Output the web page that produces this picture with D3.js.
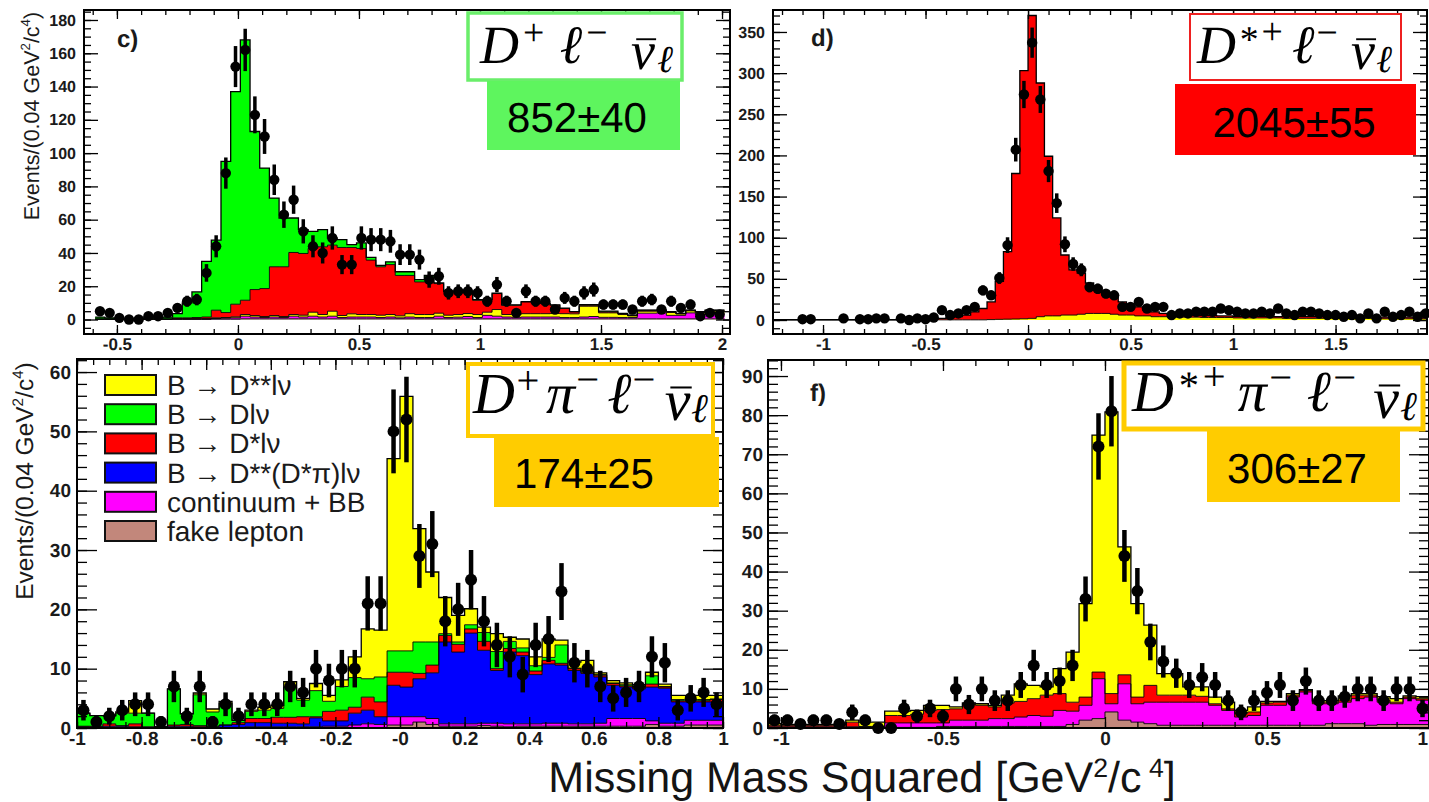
<!DOCTYPE html>
<html lang="en">
<head>
<meta charset="utf-8">
<title>Missing mass squared distributions</title>
<script src="https://cdn.jsdelivr.net/npm/d3@7/dist/d3.min.js"></script>
<style>
  html, body { margin: 0; padding: 0; background: #fff; }
  svg { display: block; text-rendering: geometricPrecision; }
</style>
</head>
<body>
<svg id="chart" width="1429" height="802"></svg>
<script>
// ---------------- binning ----------------
const BIN = 0.04;

// ---------------- c) D+ l nu : 65 bins, first centre -0.57 ----------------
const cFirst = -0.57;
const cData = [5,4,1,0,0,2,2,4,7,11, 12,28,44,88,152,162,123,110,84,63,
  72,53,44,40,49,33,33,49,48,48, 47,39,39,36,24,26,16,17,17,16,
  11,21,11,4,17,11,11,6,13,11, 16,18,9,9,9,6,11,12,6,11, 7,9,2,4,3];
const cFake = [0.1,0.1,0.1,0.1,0.1,0.1,0.1,0.1,0.1,0.1, 0.1,0.1,0.2,0.2,0.2,0.4,0.4,0.4,0.4,0.4,
  0.4,0.4,0.4,0.4,0.4,0.4,0.4,0.4,0.4,0.4, 0.4,0.4,0.4,0.4,0.4,0.4,0.4,0.4,0.4,0.4,
  0.4,0.4,0.4,0.4,0.4,0.4,0.4,0.4,0.4,0.4, 0.4,0.4,0.4,0.4,0.4,0.4,0.4,0.4,0.4,0.4, 0.4,0.4,0.4,0.4,0.4];
const cCont = [0.1,0.1,0.1,0.1,0.1,0.1,0.1,0.1,0.2,0.2, 0.2,0.2,0.4,0.6,0.8,1.6,1.1,0.8,1.1,0.8,
  1.6,1.1,1.6,1.1,1.6,0.8,1.1,1.1,1.1,0.8, 1.1,0.6,1.1,0.8,0.8,1.6,0.8,1.0,1.4,0.8,
  2.1,1.6,1.1,0.9,1.1,1.1,1.1,1.1,0.8,0.8, 1.1,1.4,0.9,0.9,0.8,0.8,3.4,3.4,3.6,2.1, 2.1,3.6,2.6,3.6,3.1];
const cDss = [0.1,0.1,0.1,0.1,0.1,0.1,0.1,0.1,0.2,0.2, 0.2,0.2,0.4,0.4,0.6,1.0,0.9,0.6,0.9,0.6,
  1.0,1.1,2.4,1.5,3.0,1.2,1.9,1.5,1.5,1.4, 1.5,1.2,2.0,1.8,1.8,1.8,1.4,1.6,1.8,1.8,
  1.9,4.0,1.5,1.7,2.0,2.0,2.0,2.1,2.3,2.2, 6.5,6.2,2.7,2.7,1.8,1.0,1.2,1.2,1.0,1.7, 0.8,1.2,1.2,1.2,1.7];
const cDst = [0,0,0,0,0,0,0,0,0.5,0.5, 0.7,1.0,4.6,3.0,7.6,8.6,15.6,16.8,29.3,29.9,
  37.3,37.1,38.3,40.7,39.7,40.9,39.9,39.7,32.7,29.1, 30.0,24.3,23.0,19.6,19.6,17.8,14.0,13.6,13.0,8.6,
  7.2,9.6,5.6,5.6,7.1,7.1,6.1,5.0,3.1,1.2, 0.6,0.6,0.6,0.6,0.6,0.4,0.6,0.6,0.6,0.4, 0.3,0.4,0.4,0.4,0.4];
const cD = [1.2,0.7,0.2,0.2,0.2,0.7,0.7,1.2,2.5,9.0, 15.4,33.5,42.1,90.8,127.8,156.4,95.0,72.4,41.3,29.3,
  20.7,14.3,10.3,10.3,4.3,4.7,1.7,3.3,1.6,0.8, 1.7,2.2,2.2,1.4,3.9,0.4,0.4,0.4,0.4,0.4,
  0.4,0.2,0.2,0.2,0.2,0.2,0.2,0.2,0.2,0.2, 0.4,0.4,0.4,0.4,0.1,0.1,0.1,0.1,0.1,0.1, 0.1,0.1,0.1,0.1,0.1];

// ---------------- d) D*+ l nu : 80 bins, first centre -1.22 ----------------
const dFirst = -1.22;
const dData = [null,null,null,1,1,null,null,null,2,null, 1,1,2,2,null,2,0,2,1,3,
  12,6,8,12,16,36,30,51,91,207, 274,337,268,181,142,92,68,61,40,38,
  32,30,16,16,22,14,16,16,6,8, 8,10,10,10,14,12,10,8,8,10,
  8,14,8,6,10,10,8,6,6,4, 6,2,8,2,10,4,6,10,4,8];
const dDss = [0.2,0.2,0.2,0.2,0.2,0.2,0.2,0.2,0.2,0.2, 0.2,0.2,0.2,0.2,0.2,0.2,0.2,0.2,0.2,0.2,
  0.2,0.2,0.2,0.2,0.2,0.2,0.5,0.8,1.0,1.2, 1.5,2,4,5,5,6,6,7,8,8,
  8,7,6,6,5,5,4,4,3.5,3.5, 3.5,3.5,3,3,3,3,2.5,2.5,2.5,2.5,
  2.5,2.5,2,2,2,2,2,2,2,2, 2,2,2,2,1.5,1.5,1.5,1.5,1.5,1.5];
const dDst = [0.1,0.1,0.1,0.1,0.1,0.1,0.1,0.1,0.1,0.1, 0.1,0.1,0.1,0.1,0.1,0.1,0.1,0.1,0.1,0.8,
  1.8,2.8,3.8,5.8,9.8,13.8,21.5,46.2,82,176.8, 301.5,368,284,194,119,73,55,50,37,32,
  24,21,16,12,11,7,6,4,3.5,3, 2.5,2.5,2.5,2.5,2,2,2,2,2,2,
  1.5,1.5,2,2,2,2,2,2,2,1.5, 1.5,1.5,1.5,1.5,2,2,2,2,2,2];

// ---------------- e) D+ pi- l nu : 50 bins, first centre -0.98 ----------------
const eFirst = -0.98;
const eData = [3,1,2,3,4,4,1,7,2,7, 1,4,2,4,4,4,7,6,10,8,
  10,10,21,21,50,52,29,31,18,20, 25,18,14,12,9,14,15,23,11,10, 7,5,6,7,12,11,3,5,6,4];
const eFake = [0.05,0.05,0.05,0.05,0.05,0.05,0.05,0.05,0.05,0.05, 0.05,0.05,0.05,0.05,0.05,0.05,0.05,0.05,0.05,0.05,
  0.05,0.05,0.05,0.05,0.5,0.5,1.0,0.6,0.3,0.3, 0.3,0.4,0.3,0.2,0.3,0.3,0.3,0.3,0.3,0.3,
  0.3,0.3,0.3,0.3,0.6,0.3,0.3,0.5,0.5,0.5];
const eCont = [0.05,0.05,0.05,0.05,0.05,0.05,0,0.05,0.05,0.05, 0.05,0.05,0.05,0.15,0.15,0.15,0.15,0.15,0.15,0.25,
  0.25,0.45,0.65,0.55,1.4,1.4,0.9,1.0,0.4,0.4, 0.4,0.4,0.5,0.5,0.4,0.4,0.5,0.5,0.4,0.4,
  0.5,1.3,1.3,1.3,0.6,0.5,0.5,0.8,0.8,0.8];
const eDssPi = [0.1,0.1,0.2,0.2,0.1,0,0.05,0.2,0.2,0.1, 0.1,0.4,0.5,0.7,0.7,0.6,0.6,0.5,1.5,0.9,
  0.9,2.0,2.3,1.3,5.3,5.0,6.4,7.7,13.8,12.1, 15.3,12.3,8.9,12.1,11.5,8.3,10.0,9.8,9.0,8.5,
  7.8,5.6,5.3,5.0,5.7,5.9,3.6,3.1,3.1,3.1];
const eDst = [0.1,0.1,0.4,0.1,0.5,0.1,0.1,0.2,0.3,0.2, 0.1,0,0.3,0.7,0.7,1.0,1.0,1.2,0.2,1.6,
  1.8,1.0,2.2,2.5,2.2,2.5,0.9,1.3,1.1,1.3, 0.7,1.5,0.3,0.6,0.6,0.6,0.6,0.3,0.3,0.2,
  0.3,0.3,0.2,0.3,0.5,0.2,0.2,0.2,0.2,0.4];
const eD = [2.2,1.8,1.3,2.1,1.8,2.3,0,6.1,1.8,5.2, 2.4,3.7,0.4,1.2,1.4,1.5,5.1,2.8,4.4,1.7,
  4.0,5.0,3.1,4.2,3.6,3.6,5.3,3.9,0.3,0.4, 0.7,1.5,2.9,1.2,0.7,0.9,0.5,3.1,0.1,0.2,
  0.1,0.1,0.2,0.1,1.4,0.1,0.2,0.2,0.2,0.1];
const eDss = [0,0,0.1,0.2,2.1,0,0,0,0,0.3, 0.5,0.3,0,0.2,0.5,0.5,0.9,0.3,1.2,1.0,
  1.1,3.5,8.4,7.9,32.4,42.9,19.1,11.8,6.1,4.5, 2.7,0.9,3.0,0.7,1.5,1.5,3.1,0.8,1.0,1.8,
  0.3,0.4,0.3,0.3,0.6,0.4,0.7,0.7,0.7,0.6];

// ---------------- f) D*+ pi- l nu : 51 bins, first centre -1.02 ----------------
const fFirst = -1.02;
const fData = [2,2,1,2,2,1,4,2,0,0, 5,3,5,3,10,6,10,7,7,11,
  16,11,12,16,33,72,81,44,35,22, 17,14,11,13,11,7,4,7,9,11, 7,12,7,7,8,10,10,7,10,10, 5];
const fFake = [0.15,0.15,0.15,0.15,0.15,0.15,0.15,0.15,0.15,0.15, 0.15,0.15,0.15,0.4,0.4,0.4,0.4,0.4,0.4,0.4,
  0.4,0.4,0.4,0.9,2.0,2.4,4.1,2.0,1.5,1.1, 0.7,0.7,0.7,0.7,0.7,0.7,0.7,0.7,0.7,0.7,
  0.7,0.7,0.7,1.1,1.1,1.1,0.7,0.9,0.9,0.9, 0.9];
const fCont = [0.15,0.15,0.15,0.15,0.15,0.15,0.15,0.15,0.15,1.15, 1.15,1.15,1.15,0.9,1.6,1.6,1.6,2.0,2.0,2.4,
  2.8,2.6,4.1,3.4,3.8,10.2,2.1,9.3,4.7,5.5, 5.9,5.9,5.9,5.9,5.1,3.8,2.1,2.5,5.1,5.1,
  7.2,8.5,5.5,5.1,5.5,6.4,7.2,5.7,5.3,6.6, 6.2];
const fDst = [0.4,0.4,0.4,0.4,0.4,0.4,1.2,0.1,0.1,1.9, 1.9,2.2,3.2,3.4,2.9,4.2,3.8,3.0,4.0,4.0,
  4.3,5.4,4.3,2.3,2.1,1.7,2.6,2.3,1.7,4.3, 1.8,1.8,1.8,1.5,0.4,0.4,0.9,0.9,0.6,0.8,
  0.5,0.4,0.4,0.4,0.5,0.9,0.5,0.5,0.4,0.4, 0.4];
const fDss = [0.4,0.2,0.2,0.2,0.2,0.2,0.5,1.1,1.1,1.1, 1.1,1.0,1.3,1.1,0.5,0.2,0.4,0.4,2.0,4.5,
  3.4,2.1,6.4,12.8,23.9,60.6,72.0,32.7,23.9,15.4, 5.5,5.5,2.1,2.4,1.7,1.7,0.8,1.3,0.4,0.2,
  0.4,0.2,0.4,0.4,1.1,0.4,0.4,0.9,0.9,0.3, 0.5];

// ---------------- tick values and labels ----------------
const cXTicks = [-0.5, 0, 0.5, 1, 1.5, 2];
const cXLabels = ['-0.5', '0', '0.5', '1', '1.5', '2'];
const cYTicks = [0, 20, 40, 60, 80, 100, 120, 140, 160, 180];
const dXTicks = [-1, -0.5, 0, 0.5, 1, 1.5];
const dXLabels = ['-1', '-0.5', '0', '0.5', '1', '1.5'];
const dYTicks = [0, 50, 100, 150, 200, 250, 300, 350];
const eXTicks = [-1, -0.8, -0.6, -0.4, -0.2, 0, 0.2, 0.4, 0.6, 0.8, 1];
const eXLabels = ['-1', '-0.8', '-0.6', '-0.4', '-0.2', '-0', '0.2', '0.4', '0.6', '0.8', '1'];
const eYTicks = [0, 10, 20, 30, 40, 50, 60];
const fXTicks = [-1, -0.5, 0, 0.5, 1];
const fXLabels = ['-1', '-0.5', '0', '0.5', '1'];
const fYTicks = [0, 10, 20, 30, 40, 50, 60, 70, 80, 90];

// ---------------- legend and yields ----------------
const legendKeys = ['dss', 'd', 'dst', 'dssPi', 'cont', 'fake'];
const legendLabels = ['B \u2192 D**l\u03bd', 'B \u2192 Dl\u03bd', 'B \u2192 D*l\u03bd',
  'B \u2192 D**(D*\u03c0)l\u03bd', 'continuum + BB', 'fake lepton'];
const yieldLabels = ['852\u00b140', '2045\u00b155', '174\u00b125', '306\u00b127'];

// ---------------- drawing ----------------
const W = 1429;
const svg = d3.select('#chart');
svg.append('rect').attr('width', W).attr('height', 802).attr('fill', '#fff');

const SANS = '"Liberation Sans", Arial, Helvetica, sans-serif';
const SERIF = '"Liberation Serif", "DejaVu Serif", serif';
const INK = '#1a1a1a';
const COLOR = { fake: '#c2877b', cont: '#ff00ff', dssPi: '#0000ff', dst: '#ff0000', d: '#00ff00', dss: '#ffff00' };

function gridValues(lo, hi, step) {
  const k0 = Math.ceil(lo / step - 1e-6), k1 = Math.floor(hi / step + 1e-6);
  return d3.range(k0, k1 + 1).map(k => +(k * step).toFixed(6));
}

function drawPanel(p) {
  const x = d3.scaleLinear().domain(p.xDomain).range([p.left, p.right]);
  const y = d3.scaleLinear().domain(p.yDomain).range([p.bottom, p.top]);
  const g = svg.append('g').attr('class', 'panel-' + p.name);

  const clipId = 'clip-' + p.name;
  g.append('clipPath').attr('id', clipId).append('rect')
    .attr('x', p.left).attr('y', p.top)
    .attr('width', p.right - p.left).attr('height', p.bottom - p.top);
  const plot = g.append('g').attr('clip-path', `url(#${clipId})`);

  // stacked Monte Carlo components
  const n = p.layers[0].values.length;
  const rows = d3.range(n).map(i => {
    const r = { c: +(p.first + i * BIN).toFixed(3) };
    p.layers.forEach(l => { r[l.key] = l.values[i]; });
    return r;
  });
  const series = d3.stack().keys(p.layers.map(l => l.key))(rows);
  const steps = s => s.flatMap(d => [
    { x: d.data.c - BIN / 2, lo: d[0], hi: d[1] },
    { x: d.data.c + BIN / 2, lo: d[0], hi: d[1] }
  ]);
  const area = d3.area().x(d => x(d.x)).y0(d => y(d.lo)).y1(d => y(d.hi));
  const line = d3.line().x(d => x(d.x)).y(d => y(d.hi));
  series.forEach(s => plot.append('path').attr('d', area(steps(s))).attr('fill', COLOR[s.key]));
  series.forEach((s, i) => plot.append('path').attr('d', line(steps(s)))
    .attr('fill', 'none').attr('stroke', '#000')
    .attr('stroke-width', i === series.length - 1 ? 1.3 : 0.9));

  // data points with Poisson error bars
  const pts = p.data.map((v, i) => ({ c: +(p.first + i * BIN).toFixed(3), v }))
    .filter(d => d.v !== null);
  g.append('g').selectAll('line').data(pts.filter(d => d.v > 0)).join('line')
    .attr('x1', d => x(d.c)).attr('x2', d => x(d.c))
    .attr('y1', d => y(Math.max(d.v - Math.sqrt(d.v), p.yDomain[0])))
    .attr('y2', d => y(Math.min(d.v + Math.sqrt(d.v), p.yDomain[1])))
    .attr('stroke', '#000').attr('stroke-width', p.barW);
  g.append('g').selectAll('circle').data(pts).join('circle')
    .attr('cx', d => x(d.c)).attr('cy', d => y(d.v)).attr('r', p.r).attr('fill', '#000');

  // axes: ticks on all four sides, pointing inwards
  const addAxis = (axis, tx, ty) => {
    const a = g.append('g').attr('transform', `translate(${tx},${ty})`).call(axis);
    a.select('.domain').remove();
    a.attr('color', '#000');
    a.selectAll('line').attr('stroke-width', 1.3);
    return a;
  };
  const xMinor = gridValues(p.xDomain[0], p.xDomain[1], p.xMinorStep);
  const yMinor = gridValues(p.yDomain[0], p.yDomain[1], p.yMinorStep);
  const fmtX = d => p.xLabels[p.xTicks.indexOf(d)];

  addAxis(d3.axisBottom(x).tickValues(xMinor).tickSize(-p.xMin).tickFormat(''), 0, p.bottom);
  addAxis(d3.axisTop(x).tickValues(xMinor).tickSize(-p.xMin).tickFormat(''), 0, p.top);
  addAxis(d3.axisTop(x).tickValues(p.xTicks).tickSize(-p.xMaj).tickFormat(''), 0, p.top);
  const xb = addAxis(d3.axisBottom(x).tickValues(p.xTicks).tickSize(-p.xMaj)
    .tickPadding(p.xPad).tickFormat(fmtX), 0, p.bottom);
  xb.attr('font-family', SANS).attr('font-size', p.xFont).attr('font-weight', 'bold');
  xb.selectAll('text').attr('fill', INK);
  // keep a label at the canvas edge fully on the page
  xb.selectAll('.tick').each(function (d) {
    const t = d3.select(this).select('text');
    const bb = t.node().getBBox();
    const over = x(d) + bb.x + bb.width - (W - 1);
    if (over > 0) t.attr('dx', -over);
  });

  addAxis(d3.axisLeft(y).tickValues(yMinor).tickSize(-p.yMin).tickFormat(''), p.left, 0);
  addAxis(d3.axisRight(y).tickValues(yMinor).tickSize(-p.yMin).tickFormat(''), p.right, 0);
  addAxis(d3.axisRight(y).tickValues(p.yTicks).tickSize(-p.yMaj).tickFormat(''), p.right, 0);
  const yl = addAxis(d3.axisLeft(y).tickValues(p.yTicks).tickSize(-p.yMaj)
    .tickPadding(p.yPad).tickFormat(d3.format('d')), p.left, 0);
  yl.attr('font-family', SANS).attr('font-size', p.yFont).attr('font-weight', 'bold');
  yl.selectAll('text').attr('fill', INK);

  g.append('rect').attr('x', p.left).attr('y', p.top)
    .attr('width', p.right - p.left).attr('height', p.bottom - p.top)
    .attr('fill', 'none').attr('stroke', '#000').attr('stroke-width', 2);
}

const panels = [
  { name: 'c', left: 84, right: 730, top: 10, bottom: 334,
    xDomain: [-0.636, 2.033], yDomain: [-8.7, 186], first: cFirst, data: cData,
    layers: [{ key: 'fake', values: cFake }, { key: 'cont', values: cCont }, { key: 'dss', values: cDss },
             { key: 'dst', values: cDst }, { key: 'd', values: cD }],
    xTicks: cXTicks, xLabels: cXLabels, yTicks: cYTicks, xMinorStep: 0.1, yMinorStep: 5,
    xMaj: 9, xMin: 5, yMaj: 14, yMin: 7, xPad: 4, yPad: 8, xFont: 17, yFont: 16, r: 5.2, barW: 3.5 },
  { name: 'd', left: 773, right: 1427, top: 10, bottom: 334,
    xDomain: [-1.244, 1.946], yDomain: [-17, 376.7], first: dFirst, data: dData,
    layers: [{ key: 'dss', values: dDss }, { key: 'dst', values: dDst }],
    xTicks: dXTicks, xLabels: dXLabels, yTicks: dYTicks, xMinorStep: 0.1, yMinorStep: 10,
    xMaj: 9, xMin: 5, yMaj: 14, yMin: 7, xPad: 4, yPad: 8, xFont: 17, yFont: 16, r: 5.2, barW: 3.5 },
  { name: 'e', left: 77, right: 723, top: 359, bottom: 728,
    xDomain: [-1, 1], yDomain: [0, 62.2], first: eFirst, data: eData,
    layers: [{ key: 'fake', values: eFake }, { key: 'cont', values: eCont }, { key: 'dssPi', values: eDssPi },
             { key: 'dst', values: eDst }, { key: 'd', values: eD }, { key: 'dss', values: eDss }],
    xTicks: eXTicks, xLabels: eXLabels, yTicks: eYTicks, xMinorStep: 0.05, yMinorStep: 2,
    xMaj: 11, xMin: 6, yMaj: 20, yMin: 10, xPad: 4, yPad: 6, xFont: 19, yFont: 19, r: 6, barW: 4.5 },
  { name: 'f', left: 768, right: 1429, top: 360, bottom: 728,
    xDomain: [-1.04, 1.0], yDomain: [0, 94.1], first: fFirst, data: fData,
    layers: [{ key: 'fake', values: fFake }, { key: 'cont', values: fCont },
             { key: 'dst', values: fDst }, { key: 'dss', values: fDss }],
    xTicks: fXTicks, xLabels: fXLabels, yTicks: fYTicks, xMinorStep: 0.1, yMinorStep: 2,
    xMaj: 11, xMin: 6, yMaj: 20, yMin: 10, xPad: 4, yPad: 5, xFont: 19, yFont: 19, r: 6, barW: 4.5 }
];
panels.forEach(drawPanel);

// ---------------- text helpers ----------------
function richText(sel, parts, size, lift = 0.42) {
  let shift = 0;
  parts.forEach(([txt, kind]) => {
    const target = kind === 'sup' ? -lift * size : 0;
    const ts = sel.append('tspan').attr('dy', target - shift).text(txt);
    if (kind === 'sup') ts.attr('font-size', size * 0.62);
    shift = target;
  });
}

// y-axis titles
[{ x: 39, y: 116, size: 21.5 }, { x: 33, y: 481, size: 24.5 }].forEach(t => {
  const txt = svg.append('text').attr('transform', `translate(${t.x},${t.y}) rotate(-90)`)
    .attr('text-anchor', 'middle').attr('font-family', SANS).attr('font-size', t.size).attr('fill', INK);
  richText(txt, [['Events/(0.04 GeV'], ['2', 'sup'], ['/c'], ['4', 'sup'], [')']], t.size);
});

// panel tags
[{ t: 'c)', x: 117, y: 47 }, { t: 'd)', x: 811, y: 46 }, { t: 'f)', x: 810, y: 401 }].forEach(l =>
  svg.append('text').attr('x', l.x).attr('y', l.y).attr('font-family', SANS).attr('font-size', 24)
    .attr('font-weight', 'bold').attr('fill', INK).text(l.t));

// common x-axis title
const xt = svg.append('text').attr('x', 862).attr('y', 792).attr('text-anchor', 'middle')
  .attr('font-family', SANS).attr('font-size', 43).attr('fill', '#141414');
richText(xt, [['Missing Mass Squared [GeV'], ['2', 'sup'], ['/c'], [' 4', 'sup'], [']']], 43, 0.36);

// legend (panel e)
legendKeys.forEach((k, i) => {
  const cy = 385 + i * 29.2;
  svg.append('rect').attr('x', 105).attr('y', cy - 10).attr('width', 51).attr('height', 20)
    .attr('fill', COLOR[k]).attr('stroke', '#111').attr('stroke-width', 2);
  svg.append('text').attr('x', 167).attr('y', cy + 10).attr('font-family', SANS)
    .attr('font-size', 28).attr('fill', INK).text(legendLabels[i]);
});

// decay-mode formulas in framed boxes
function formula(pieces, left, right, baseline, size) {
  const g = svg.append('g');
  const items = pieces.map(pc => {
    const fs = size * (pc.s || 1);
    const t = g.append('text').attr('font-family', SERIF).attr('font-size', fs)
      .attr('font-style', pc.up ? 'normal' : 'italic').attr('fill', '#000')
      .attr('y', baseline - size * (pc.r || 0)).text(pc.t);
    return { t, pc, w: t.node().getComputedTextLength() };
  });
  const natural = d3.sum(items, d => d.w);
  const weights = d3.sum(items.slice(1), d => d.pc.w == null ? 1 : d.pc.w);
  const unit = (right - left - natural) / weights;
  let cx = left;
  items.forEach((it, i) => {
    if (i > 0) cx += unit * (it.pc.w == null ? 1 : it.pc.w);
    it.t.attr('x', cx);
    if (it.pc.bar) {
      const yb = baseline - size * (it.pc.r || 0) - size * 0.56;
      g.append('line').attr('x1', cx + it.w * 0.22).attr('x2', cx + it.w * 1.05)
        .attr('y1', yb).attr('y2', yb).attr('stroke', '#000').attr('stroke-width', size * 0.035);
    }
    cx += it.w;
  });
}

const boxes = [
  { stroke: '#6aee6a', sw: 3.5, bx: 468, by: 13, bw: 214, bh: 67,
    fill: '#5ef55e', fx: 487, fy: 81, fw: 193, fh: 69, tx: 577, ty: 132,
    fl: 480, fr: 673, fb: 63, fs: 54,
    pieces: [{ t: 'D' }, { t: '+', up: 1, s: 0.7, r: 0.33, w: 0.25 }, { t: '\u2113', w: 1 },
             { t: '\u2212', up: 1, s: 0.7, r: 0.34, w: 0.25 }, { t: '\u03bd', bar: 1, r: -0.12, w: 1.5 },
             { t: '\u2113', s: 0.7, r: -0.16, w: 0.15 }] },
  { stroke: '#ee2020', sw: 2, bx: 1190, by: 14, bw: 211, bh: 66,
    fill: '#ff0000', fx: 1175, fy: 84, fw: 241, fh: 71, tx: 1294, ty: 137,
    fl: 1197, fr: 1392, fb: 63, fs: 54,
    pieces: [{ t: 'D' }, { t: '*', up: 1, s: 0.7, r: 0.2, w: 0.4 }, { t: '+', up: 1, s: 0.7, r: 0.36, w: 0.3 },
             { t: '\u2113', w: 1 }, { t: '\u2212', up: 1, s: 0.7, r: 0.34, w: 0.2 },
             { t: '\u03bd', bar: 1, r: -0.12, w: 1.4 }, { t: '\u2113', s: 0.7, r: -0.16, w: 0.15 }] },
  { stroke: '#ffcc00', sw: 4, bx: 468, by: 364, bw: 245, bh: 72,
    fill: '#ffcc00', fx: 494, fy: 437, fw: 225, fh: 70, tx: 584, ty: 488,
    fl: 473, fr: 708, fb: 413, fs: 58,
    pieces: [{ t: 'D' }, { t: '+', up: 1, s: 0.7, r: 0.33, w: 0.25 }, { t: '\u03c0', w: 1 },
             { t: '\u2212', up: 1, s: 0.7, r: 0.34, w: 0.2 }, { t: '\u2113', w: 1.2 },
             { t: '\u2212', up: 1, s: 0.7, r: 0.34, w: 0.2 }, { t: '\u03bd', bar: 1, r: -0.12, w: 1.4 },
             { t: '\u2113', s: 0.7, r: -0.16, w: 0.1 }] },
  { stroke: '#ffcc00', sw: 5, bx: 1124, by: 363, bw: 299, bh: 66,
    fill: '#ffcc00', fx: 1207, fy: 431, fw: 193, fh: 71, tx: 1297, ty: 483,
    fl: 1132, fr: 1417, fb: 411, fs: 58,
    pieces: [{ t: 'D' }, { t: '*', up: 1, s: 0.7, r: 0.2, w: 0.4 }, { t: '+', up: 1, s: 0.7, r: 0.36, w: 0.3 },
             { t: '\u03c0', w: 1 }, { t: '\u2212', up: 1, s: 0.7, r: 0.34, w: 0.2 }, { t: '\u2113', w: 1.2 },
             { t: '\u2212', up: 1, s: 0.7, r: 0.34, w: 0.2 }, { t: '\u03bd', bar: 1, r: -0.12, w: 1.4 },
             { t: '\u2113', s: 0.7, r: -0.16, w: 0.1 }] }
];
boxes.forEach((b, i) => {
  svg.append('rect').attr('x', b.bx).attr('y', b.by).attr('width', b.bw).attr('height', b.bh)
    .attr('fill', '#fff').attr('stroke', b.stroke).attr('stroke-width', b.sw);
  formula(b.pieces, b.fl, b.fr, b.fb, b.fs);
  svg.append('rect').attr('x', b.fx).attr('y', b.fy).attr('width', b.fw).attr('height', b.fh)
    .attr('fill', b.fill);
  svg.append('text').attr('x', b.tx).attr('y', b.ty).attr('text-anchor', 'middle')
    .attr('font-family', SANS).attr('font-size', 42).attr('fill', '#000').text(yieldLabels[i]);
});
</script>
</body>
</html>
